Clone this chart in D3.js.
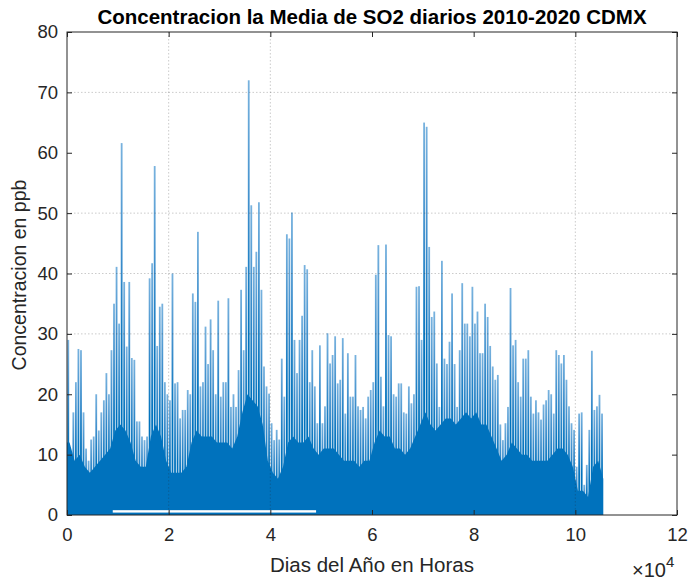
<!DOCTYPE html>
<html>
<head>
<meta charset="utf-8">
<script src="https://cdn.jsdelivr.net/npm/d3@7"></script>
<style>
  body { margin: 0; background: #fff; }
  svg { display: block; font-family: "Liberation Sans", Arial, Helvetica, sans-serif; }
</style>
</head>
<body>
<svg id="chart" width="688" height="580"></svg>
<script>
// ---- Data ----
// Maximum concentration (ppb) in each 500-hour block, starting at hour 0
const peakBinHours = 500;
const peakValues = [
  29, 9, 17, 22, 27.5, 27.3, 17, 11, 9, 12.5,
  13, 20, 14, 17, 19, 23.5, 20, 27.3, 35, 41.1,
  31.7, 61.6, 38.6, 27.9, 38.6, 26, 25.7, 15.5, 15.5, 13,
  12.4, 13, 39.2, 41.7, 57.8, 28, 34.5, 35, 22, 20,
  19, 40, 21.8, 22, 16, 17.4, 17.4, 20.7, 20, 36.7,
  35.3, 46.9, 21.3, 22, 31.2, 25, 32.4, 27.3, 20, 35.5,
  19.6, 22, 22, 35.9, 17.9, 20, 17.9, 24, 37.3, 27.3,
  41.1, 72, 51.3, 41.1, 43.6, 51.8, 37.3, 24.6, 21.3, 20.1,
  15.2, 12.4, 14.1, 12.5, 25.9, 19.6, 46.5, 45.8, 50.1, 29,
  23.5, 29, 33, 41.4, 40.7, 22, 27.3, 21.3, 15.2, 28.1,
  15.2, 18, 30.1, 25.1, 26.5, 29.6, 21.8, 22.4, 29.3, 16.8,
  26.8, 19.6, 19.6, 26.5, 18, 17.4, 17.9, 16, 19.6, 20.7,
  22, 39.8, 44.7, 22.9, 18, 44.8, 29.8, 29.6, 20, 19.6,
  21.8, 21.8, 17, 16.8, 21.3, 18.5, 20, 37.8, 37.9, 29,
  65, 64.3, 44.4, 32.8, 33.7, 25.1, 17.9, 42.1, 25.9, 25,
  28.7, 36.7, 25, 17.9, 27.3, 38.4, 31.7, 31.7, 29.6, 37.8,
  31.7, 33.7, 26.8, 26.8, 35, 32.8, 28, 24.6, 22.4, 23.2,
  15, 12.4, 15.2, 17.9, 37.6, 28.1, 29, 22, 19.6, 25.9,
  25.9, 27.3, 19.6, 16.8, 19, 17, 15.8, 18.3, 19, 20.7,
  20, 16.8, 27.3, 26.5, 25.1, 26.5, 22.4, 18, 15.2, 14.1,
  8, 16.8, 17, 5, 8.3, 14.1, 27.2, 17.4, 18, 19.9,
  16.8
];
// Level (ppb) up to which the trace is a solid block, per 1000-hour block
const bodyBinHours = 1000;
const bodyValues = [
  12, 9, 10, 8, 7, 8, 9, 10, 11, 14,
  15, 14, 12, 9, 8, 8, 13, 15, 13, 9,
  7, 7, 7, 8, 12, 14, 13, 13, 13, 12,
  12, 12, 11, 13, 17, 20, 19, 18, 15, 9,
  7, 6, 8, 12, 13, 12, 12, 13, 11, 10,
  11, 11, 11, 10, 9, 9, 9, 8, 9, 9,
  12, 14, 13, 13, 11, 11, 10, 11, 13, 15,
  17, 15, 14, 15, 16, 16, 15, 16, 17, 16,
  17, 15, 15, 13, 11, 9, 10, 12, 11, 10,
  10, 9, 9, 9, 9, 10, 11, 11, 10, 8,
  4, 4, 3, 8, 9, 6
];
const lastHour = 105500;
// Gap near the floor where no values fall (hours, ppb)
const gapHours = [9000, 49000];
const gapValues = [0.4, 0.8];

const xTicks = [0, 20000, 40000, 60000, 80000, 100000, 120000];
const xTickLabels = ["0", "2", "4", "6", "8", "10", "12"];
const yTicks = [0, 10, 20, 30, 40, 50, 60, 70, 80];
const xGridTicks = [20000, 40000, 100000];
const yGridTicks = [30, 40, 50, 70];

const titleText = "Concentracion la Media de SO2 diarios 2010-2020 CDMX";
const xLabelText = "Dias del Año en Horas";
const yLabelText = "Concentracion en ppb";

// ---- Layout ----
const L = 67, R = 677, T = 32, B = 515;
const blue = "#0072BD";
const ink = "#262626";

const svg = d3.select("#chart");
const x = d3.scaleLinear().domain([0, 120000]).range([L, R]);
const y = d3.scaleLinear().domain([0, 80]).range([B, T]);

const defs = svg.append("defs");
const grad = defs.append("linearGradient").attr("id", "spikeGrad")
  .attr("x1", 0).attr("y1", 0).attr("x2", 0).attr("y2", 1);
grad.append("stop").attr("offset", 0).attr("stop-color", "#78b2de");
grad.append("stop").attr("offset", 0.3).attr("stop-color", "#3d8ecc");
grad.append("stop").attr("offset", 0.6).attr("stop-color", blue);
grad.append("stop").attr("offset", 1).attr("stop-color", blue);

const plot = svg.append("g");

// spikes
const spikeW = 1.8;
plot.append("g").selectAll("rect")
  .data(peakValues)
  .join("rect")
  .attr("x", (d, i) => x(i * peakBinHours + peakBinHours / 2) - spikeW / 2)
  .attr("width", spikeW)
  .attr("y", d => y(d))
  .attr("height", d => y(0) - y(d))
  .attr("fill", "url(#spikeGrad)");

// solid body (dense part of the trace)
const bodyPoints = bodyValues.map((v, i) => [Math.min(i * bodyBinHours + bodyBinHours / 2, lastHour), v]);
const bodyData = [[0, bodyValues[0]], ...bodyPoints, [lastHour, bodyValues[bodyValues.length - 1]]];
plot.append("path")
  .datum(bodyData)
  .attr("d", d3.area().x(d => x(d[0])).y0(y(0)).y1(d => y(d[1])).curve(d3.curveLinear))
  .attr("fill", blue);

// floor gap
plot.append("rect")
  .attr("x", x(gapHours[0]))
  .attr("width", x(gapHours[1]) - x(gapHours[0]))
  .attr("y", y(gapValues[1]))
  .attr("height", y(gapValues[0]) - y(gapValues[1]))
  .attr("fill", "#fff");

// grid lines (on top, dotted)
const grid = svg.append("g").attr("stroke", ink).attr("stroke-opacity", 0.3)
  .attr("stroke-dasharray", "1.5,2").attr("stroke-width", 0.8);
grid.selectAll("line.gx").data(xGridTicks).join("line").attr("class", "gx")
  .attr("x1", d => x(d)).attr("x2", d => x(d)).attr("y1", T).attr("y2", B);
grid.selectAll("line.gy").data(yGridTicks).join("line").attr("class", "gy")
  .attr("x1", L).attr("x2", R).attr("y1", d => y(d)).attr("y2", d => y(d));

// axes
const fontSize = 18.5;
const axB = svg.append("g").attr("transform", `translate(0,${B})`)
  .call(d3.axisBottom(x).tickValues(xTicks).tickFormat((d, i) => xTickLabels[i]).tickSize(-5).tickPadding(13));
const axL = svg.append("g").attr("transform", `translate(${L},0)`)
  .call(d3.axisLeft(y).tickValues(yTicks).tickSize(-5).tickPadding(9));
const axT = svg.append("g").attr("transform", `translate(0,${T})`)
  .call(d3.axisTop(x).tickValues(xTicks).tickFormat("").tickSize(-5));
const axR = svg.append("g").attr("transform", `translate(${R},0)`)
  .call(d3.axisRight(y).tickValues(yTicks).tickFormat("").tickSize(-5));
[axB, axL, axT, axR].forEach(a => {
  a.select(".domain").remove();
  a.selectAll(".tick line").attr("stroke", ink);
  a.selectAll(".tick text").attr("fill", ink).style("font-size", fontSize + "px")
    .style("font-family", '"Liberation Sans", Arial, sans-serif');
});

// box
svg.append("rect").attr("x", L).attr("y", T).attr("width", R - L).attr("height", B - T)
  .attr("fill", "none").attr("stroke", ink).attr("stroke-width", 1);

// title
svg.append("text").attr("x", (L + R) / 2).attr("y", 24).attr("text-anchor", "middle")
  .attr("fill", "#000").style("font-size", "20.5px").style("font-weight", "bold").text(titleText);

// axis labels
svg.append("text").attr("x", (L + R) / 2).attr("y", 572).attr("text-anchor", "middle")
  .attr("fill", ink).style("font-size", "20.5px").text(xLabelText);
svg.append("text").attr("transform", `translate(26,275) rotate(-90)`)
  .attr("text-anchor", "middle").attr("fill", ink).style("font-size", "19.5px").text(yLabelText);

// exponent
const ex = svg.append("text").attr("x", 632).attr("y", 577).attr("fill", ink).style("font-size", "20px");
ex.append("tspan").text("\u00D710");
ex.append("tspan").attr("dy", -10).style("font-size", "15px").text("4");
</script>
</body>
</html>
